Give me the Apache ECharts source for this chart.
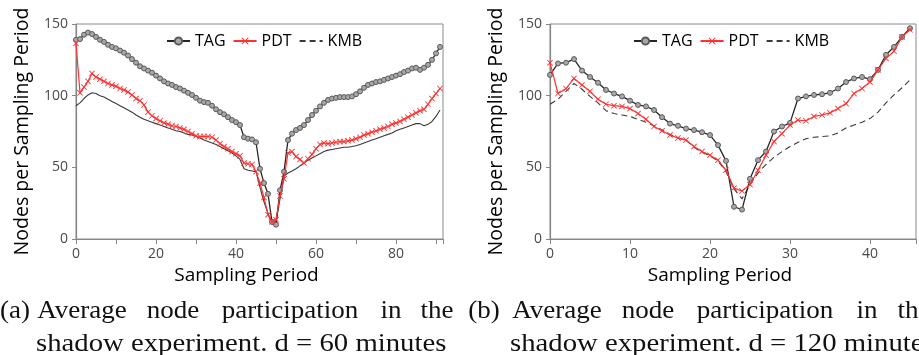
<!DOCTYPE html>
<html>
<head>
<meta charset="utf-8">
<script src="https://cdn.jsdelivr.net/npm/echarts@6/dist/echarts.min.js"></script>
<style>
html, body { margin:0; padding:0; background:#fff; }
#chart { width:919px; height:355px; }
</style>
</head>
<body>
<div id="chart"></div>
<script>
// (a) d = 60 minutes, sampling periods 0..91
var tagA = [
  139,139.5,142.5,144,143,141,139,137.5,135.5,134,
  133,131.5,130,128,125.5,123,120.5,119,117.5,116,
  114,112,110,108.5,107.5,106,105,103.5,102,100.5,
  98.5,96.5,95.5,95,93,90.5,88.5,87,85,83,
  81.5,79.5,71,70,69.5,67.5,49,39,31.5,12,
  10,34,47,69,73.5,76,77.5,79.5,83,86.5,
  89.5,92.5,95,97,98,98.5,99,99,99,99.5,
  101,103,105.5,107.5,108.5,109.5,110,111,112,113,
  114,115,116.5,117.5,119,119.5,118,119.5,121.5,125,
  129.5,134
];
var pdtA = [
  136.5,102,106,110,115.5,113,111.5,110,108.5,107.5,
  106.5,105,104,102.5,100.5,98,96.5,93.5,88.5,86,
  84,82.5,81,80,79,78.5,77.5,76.5,75,73.5,
  72,71.5,71.5,71.5,71,69,66.5,64.5,63,61,
  59.5,58,53,52.5,52,47,39,29,17,12,
  13.5,30,42,60,61,57.5,55.5,53,56,59,
  63,66,67,66.5,67,67.5,68,68,68.5,69,
  70,71,72.5,73.5,74.5,75.5,76.5,77.5,78.5,80,
  81,82,83.5,85,86.5,88,89.5,90.5,94,98,
  101.5,105
];
var kmbA = [
  93,95,98,100.5,102,101.5,100,99,97.5,96,
  94.5,93,91.5,90,88.5,86.5,85,83.5,82.5,81.5,
  80.5,79.5,78.5,77.5,76.5,75.5,75,74,73,72.5,
  71.5,70.5,69,68,67,66,64.5,63,61.5,60,
  58,55.5,49,48,47.5,47,36,26,18,10,
  12,28,44,46,47.5,49,51,53,55,56.5,
  58,59.5,61,62,62.5,63,63.5,64,64,64.5,
  65,66,67,68,69,70,71,72,73,74,
  75.5,76.5,77.5,78.5,79.5,80.5,80.5,79,80,82,
  85.5,90
];

// (b) d = 120 minutes, sampling periods 0..45
var tagB = [
  114.5,122.5,123,125.5,117.5,113,109,104,101.5,99.5,
  96.5,93.5,92.5,90,85,80.5,79,77,76,74.5,
  72.5,65.5,54.5,22.5,20.5,42,55,61,75,78.5,
  81,98,99.5,100.5,101,102,105,109.5,112,113,
  111.5,118,128.5,134,141,147
];
var pdtB = [
  123,101.5,105,112,107.5,103,97.5,94,93,92.5,
  91,87.5,83.5,78.5,75.5,72.5,70.5,69,64.5,61,
  58.5,55,48,35.5,33.5,38,48,58.5,68,73.5,
  79.5,83,82.5,85.5,86.5,88,91,94.5,101.5,105,
  109.5,118,126,131,141,146
];
var kmbB = [
  94,97.5,103,108.5,104.5,99.5,95,89.5,87.5,86.5,
  85.5,83.5,81.5,79,76,73,70.5,69,64,60.5,
  58,54.5,47,35,28,38,46,52,57,61,
  64.5,67.5,70,71,71.5,72,74,77.5,79.5,81.5,
  84,88.5,95,100.5,105.5,111
];

var yTicks = [0, 50, 100, 150];
var legendNames = ['TAG', 'PDT', 'KMB'];

// first caption line is justified, so it is placed word by word: [text, centre x]
var captionLineA = [['(a)', 15], ['Average', 82], ['node', 173], ['participation', 290], ['in', 391], ['the', 437]];
var captionLineB = [['(b)', 484], ['Average', 557], ['node', 648], ['participation', 765], ['in', 867], ['the', 914]];
var captionTailA = 'shadow experiment. d = 60 minutes';
var captionTailB = 'shadow experiment. d = 120 minutes';

var FONT = '"Open Sans", "Noto Sans", sans-serif';
var SERIF = '26px "Liberation Serif", serif';
var XMARK = 'path://M0,1L1,0L5,4L9,0L10,1L6,5L10,9L9,10L5,6L1,10L0,9L4,5Z';

function pts(vals) {
  return vals.map(function (v, i) { return [i, v]; });
}

function xAxisCfg(gi, max, every) {
  return {
    type: 'value', gridIndex: gi, min: 0, max: max, interval: 10,
    name: 'Sampling Period', nameLocation: 'middle', nameGap: 24,
    nameTextStyle: { fontFamily: FONT, fontSize: 19, color: '#000', padding: [0, 26, 0, 0] },
    axisLine: { lineStyle: { color: '#868686', width: 1.2 } },
    axisTick: { show: true, inside: false, length: 5, lineStyle: { color: '#868686' } },
    axisLabel: {
      fontFamily: FONT, fontSize: 14, color: '#4a4a4a', margin: 8,
      formatter: function (v) { return v % every === 0 ? String(v) : ''; }
    },
    splitLine: { show: false }
  };
}

function yAxisCfg(gi) {
  return {
    type: 'value', gridIndex: gi, min: yTicks[0], max: yTicks[yTicks.length - 1], interval: 50,
    name: 'Nodes per Sampling Period', nameLocation: 'middle', nameGap: 44,
    nameTextStyle: { fontFamily: FONT, fontSize: 19.5, color: '#000' },
    axisLine: { show: true, lineStyle: { color: '#868686', width: 1.2 } },
    axisTick: { show: true, inside: false, length: 4, lineStyle: { color: '#868686' } },
    axisLabel: { fontFamily: FONT, fontSize: 14, color: '#4a4a4a', margin: 8 },
    splitLine: { show: false }
  };
}

function seriesSet(ai, tag, pdt, kmb, kmbType) {
  return [
    {
      name: 'TAG', type: 'line', xAxisIndex: ai, yAxisIndex: ai, data: pts(tag),
      symbol: 'circle', symbolSize: 5, showSymbol: true,
      lineStyle: { color: '#262626', width: 1.3 },
      itemStyle: { color: '#a8a8a8', borderColor: '#5a5a5a', borderWidth: 1 },
      z: 3
    },
    {
      name: 'PDT', type: 'line', xAxisIndex: ai, yAxisIndex: ai, data: pts(pdt),
      symbol: XMARK, symbolSize: 6, showSymbol: true,
      lineStyle: { color: '#ff3030', width: 1.2 },
      itemStyle: { color: '#ff3030' },
      z: 4
    },
    {
      name: 'KMB', type: 'line', xAxisIndex: ai, yAxisIndex: ai, data: pts(kmb),
      symbol: 'none', showSymbol: false,
      lineStyle: { color: '#3a3a3a', width: 1.1, type: kmbType },
      itemStyle: { color: 'rgba(0,0,0,0)', borderWidth: 0 },
      z: 2
    }
  ];
}

function legendCfg(left) {
  return {
    left: left, top: 33, padding: 0, itemGap: 7, itemWidth: 23, itemHeight: 9,
    textStyle: { fontFamily: FONT, fontSize: 16, color: '#000' },
    data: legendNames
  };
}

function wordTexts(words) {
  return words.map(function (w) {
    return {
      type: 'text', x: w[1], y: 298, scaleX: 1.04,
      style: { text: w[0], font: SERIF, fill: '#111', align: 'center', verticalAlign: 'top' }
    };
  });
}

function tailText(str, left) {
  return {
    type: 'text', x: left, y: 331, scaleX: 1.105,
    style: { text: str, font: SERIF, fill: '#111', align: 'left', verticalAlign: 'top' }
  };
}

var captionGraphics = wordTexts(captionLineA).concat(wordTexts(captionLineB))
  .concat([tailText(captionTailA, 36), tailText(captionTailB, 510)]);

var chart = echarts.init(document.getElementById('chart'), null, { renderer: 'canvas' });
chart.setOption({
  animation: false,
  backgroundColor: '#fff',
  grid: [
    { left: 76, top: 24, width: 367, height: 215, show: true, borderColor: '#8a8a8a', borderWidth: 1, containLabel: false },
    { left: 550, top: 24, width: 366, height: 215, show: true, borderColor: '#8a8a8a', borderWidth: 1, containLabel: false }
  ],
  xAxis: [xAxisCfg(0, 91.75, 20), xAxisCfg(1, 45.75, 10)],
  yAxis: [yAxisCfg(0), yAxisCfg(1)],
  legend: [legendCfg(166), legendCfg(633)],
  // right-hand series first so the shared legend picks up the dashed KMB style
  series: seriesSet(1, tagB, pdtB, kmbB, [6, 4]).concat(seriesSet(0, tagA, pdtA, kmbA, 'solid')),
  graphic: captionGraphics
});
</script>
</body>
</html>
